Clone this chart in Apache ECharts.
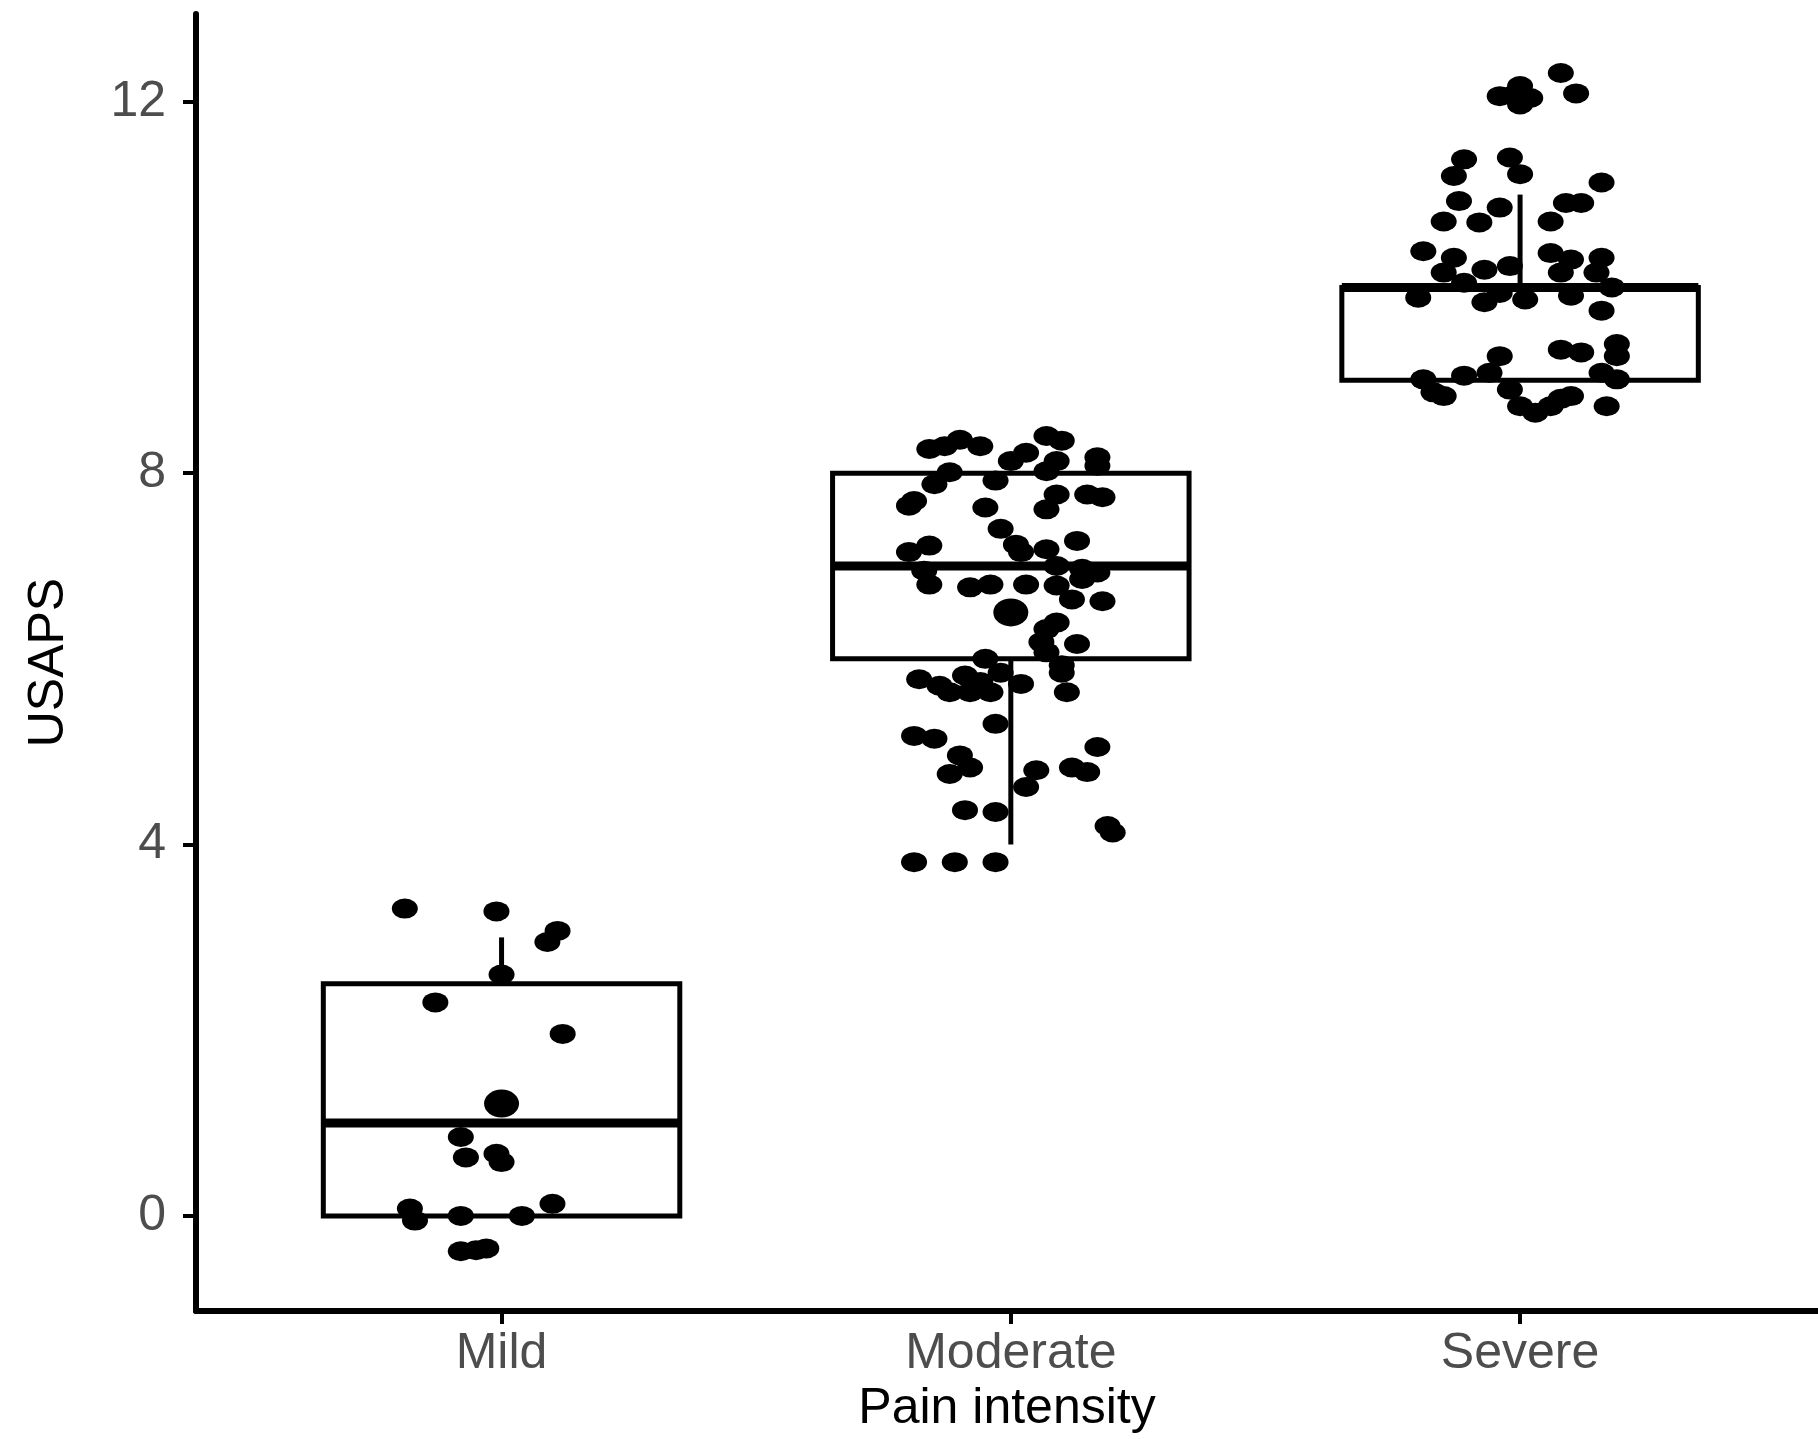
<!DOCTYPE html>
<html><head><meta charset="utf-8">
<script src="https://cdn.jsdelivr.net/npm/echarts@6/dist/echarts.min.js"></script>
<style>html,body{margin:0;padding:0;background:#fff}#chart{width:1818px;height:1439px}</style>
</head><body><div id="chart"></div>
<script>
const categories = ['Mild', 'Moderate', 'Severe'];
const yTickValues = [0, 4, 8, 12];
const boxQ1 = [0, 6, 9];
const boxMedian = [1, 7, 10];
const boxQ3 = [2.5, 8, 10];
const whiskerLow = [0, 4, 9];
const whiskerHigh = [3, 8, 11];

const mildPoints = [[0.81,3.31],[0.99,3.28],[1.11,3.07],[1.09,2.95],[1.00,2.60],[0.87,2.30],[1.12,1.96],[0.92,0.85],[0.93,0.63],[0.99,0.67],[1.00,0.58],[1.10,0.13],[0.82,0.08],[0.83,-0.05],[0.92,0.00],[1.04,0.00],[0.92,-0.38],[0.97,-0.35],[0.95,-0.37]];
const moderatePoints = [[1.84,8.26],[1.87,8.29],[1.90,8.36],[1.94,8.29],[2.07,8.40],[2.10,8.35],[2.03,8.22],[2.00,8.13],[2.09,8.13],[2.17,8.17],[2.17,8.08],[2.07,8.02],[1.88,8.01],[1.85,7.88],[1.97,7.92],[2.09,7.77],[2.15,7.77],[2.18,7.74],[1.81,7.70],[1.80,7.65],[1.95,7.63],[2.07,7.61],[1.98,7.40],[2.01,7.23],[2.13,7.27],[1.84,7.22],[1.80,7.15],[2.07,7.18],[2.02,7.15],[2.09,7.00],[2.14,6.97],[2.17,6.93],[1.83,6.95],[1.84,6.80],[1.92,6.77],[1.96,6.80],[2.03,6.80],[2.09,6.79],[2.14,6.86],[2.12,6.64],[2.18,6.62],[2.09,6.39],[2.07,6.32],[2.06,6.18],[2.13,6.16],[2.07,6.07],[1.95,6.00],[2.10,5.93],[2.10,5.85],[1.82,5.78],[1.86,5.71],[1.88,5.64],[1.91,5.82],[1.92,5.64],[1.94,5.75],[1.96,5.64],[1.98,5.85],[2.02,5.73],[2.11,5.64],[1.97,5.30],[1.81,5.17],[1.85,5.14],[1.90,4.96],[1.92,4.83],[1.88,4.76],[2.17,5.05],[2.12,4.83],[2.15,4.78],[2.05,4.80],[2.03,4.62],[1.91,4.37],[1.97,4.35],[2.19,4.20],[2.20,4.13],[1.81,3.81],[1.89,3.81],[1.97,3.81]];
const severePoints = [[3.08,12.31],[3.11,12.09],[2.96,12.06],[2.99,12.08],[3.00,12.17],[3.02,12.04],[3.00,11.97],[2.89,11.38],[2.98,11.40],[2.87,11.20],[3.00,11.22],[3.16,11.13],[2.88,10.93],[2.96,10.86],[3.09,10.91],[3.12,10.91],[3.06,10.71],[2.85,10.71],[2.92,10.70],[2.81,10.39],[2.87,10.32],[3.06,10.37],[3.10,10.30],[3.16,10.32],[2.98,10.23],[2.93,10.19],[2.85,10.16],[3.08,10.16],[3.15,10.16],[2.89,10.05],[3.18,10.00],[2.80,9.89],[2.93,9.84],[3.01,9.87],[3.10,9.91],[3.16,9.75],[2.96,9.94],[3.08,9.33],[3.12,9.30],[3.19,9.39],[3.19,9.26],[2.96,9.26],[2.94,9.08],[2.89,9.05],[2.81,9.01],[3.16,9.08],[3.19,9.01],[2.83,8.87],[2.85,8.83],[2.98,8.90],[3.00,8.72],[3.03,8.65],[3.08,8.80],[3.10,8.83],[3.17,8.72],[3.06,8.72]];
const overlapPoints = [[1.00,1.21],[2.00,6.50]];

const boxData = categories.map((c, i) => [i + 1, whiskerLow[i], boxQ1[i], boxMedian[i], boxQ3[i], whiskerHigh[i]]);

const FONT = 'Liberation Sans, Arial, Helvetica, sans-serif';
const chart = echarts.init(document.getElementById('chart'), null, {renderer: 'canvas'});

function renderBox(params, api) {
  const x = api.value(0);
  const halfW = api.size([0.7, 0])[0] / 2;
  const pLow = api.coord([x, api.value(1)]);
  const pQ1 = api.coord([x, api.value(2)]);
  const pMed = api.coord([x, api.value(3)]);
  const pQ3 = api.coord([x, api.value(4)]);
  const pHigh = api.coord([x, api.value(5)]);
  const ls = {stroke: '#000', lineWidth: 5};
  return {
    type: 'group',
    children: [
      {type: 'line', shape: {x1: pQ3[0], y1: pQ3[1], x2: pHigh[0], y2: pHigh[1]}, style: ls},
      {type: 'line', shape: {x1: pLow[0], y1: pLow[1], x2: pQ1[0], y2: pQ1[1]}, style: ls},
      {type: 'rect', shape: {x: pQ3[0] - halfW, y: pQ3[1], width: 2 * halfW, height: pQ1[1] - pQ3[1]},
       style: {fill: 'transparent', stroke: '#000', lineWidth: 5}},
      {type: 'line', shape: {x1: pMed[0] - halfW, y1: pMed[1], x2: pMed[0] + halfW, y2: pMed[1]},
       style: {stroke: '#000', lineWidth: 9}}
    ]
  };
}

const pointStyle = {color: '#000', opacity: 1};
chart.setOption({
  animation: false,
  backgroundColor: '#fff',
  grid: {left: 196, top: 14, right: 0, height: 1299, containLabel: false},
  xAxis: {
    type: 'value', min: 0.4, max: 3.585,
    name: 'Pain intensity', nameLocation: 'middle', nameGap: 70,
    nameTextStyle: {color: '#000', fontSize: 50, fontFamily: FONT},
    axisLine: {show: true, onZero: false, lineStyle: {color: '#000', width: 6}},
    axisTick: {show: true, length: 13, lineStyle: {color: '#000', width: 4}, customValues: [1, 2, 3]},
    axisLabel: {show: true, margin: 18, color: '#4d4d4d', fontSize: 50, fontFamily: FONT,
      customValues: [1, 2, 3], formatter: v => categories[Math.round(v) - 1] || ''},
    splitLine: {show: false}
  },
  yAxis: {
    type: 'value', min: -1.025, max: 12.945,
    name: 'USAPS', nameLocation: 'middle', nameGap: 122,
    nameTextStyle: {color: '#000', fontSize: 50, fontFamily: FONT},
    axisLine: {show: true, onZero: false, lineStyle: {color: '#000', width: 6}},
    axisTick: {show: true, length: 13, lineStyle: {color: '#000', width: 4}, customValues: yTickValues},
    axisLabel: {show: true, margin: 30, color: '#4d4d4d', fontSize: 50, fontFamily: FONT,
      customValues: yTickValues},
    splitLine: {show: false}
  },
  series: [
    {type: 'custom', name: 'box', renderItem: renderBox, data: boxData,
     encode: {x: 0, y: [1, 2, 3, 4, 5]}, z: 1, clip: false},
    {type: 'scatter', name: 'Mild', data: mildPoints, symbol: 'circle', symbolSize: [26, 20], itemStyle: pointStyle, z: 3},
    {type: 'scatter', name: 'Moderate', data: moderatePoints, symbol: 'circle', symbolSize: [26, 20], itemStyle: pointStyle, z: 3},
    {type: 'scatter', name: 'Severe', data: severePoints, symbol: 'circle', symbolSize: [26, 20], itemStyle: pointStyle, z: 3},
    {type: 'scatter', name: 'Overlap', data: overlapPoints, symbol: 'circle', symbolSize: [35, 28], itemStyle: pointStyle, z: 3}
  ]
});
</script></body></html>
